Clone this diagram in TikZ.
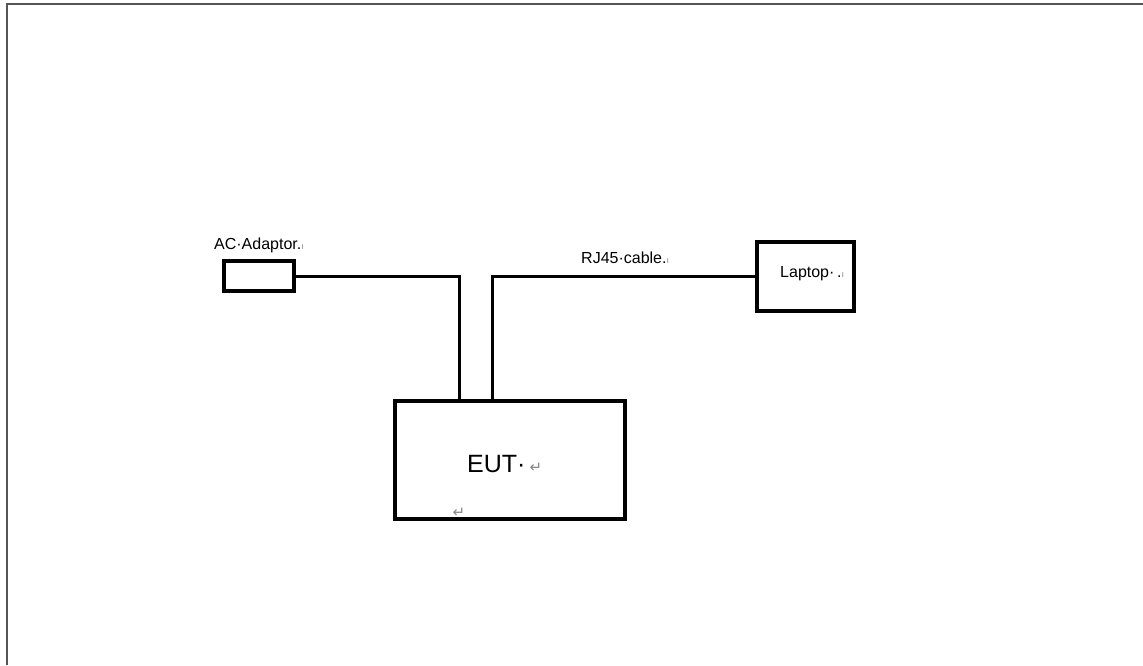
\documentclass[tikz,border=0pt]{standalone}
\usepackage{fontspec}
\setmainfont{Liberation Sans}
\newfontfamily\markfont{DejaVu Sans}
\usetikzlibrary{positioning, calc}

\definecolor{framegray}{RGB}{85,85,85}
\definecolor{markgray}{RGB}{135,135,135}
\newcommand{\retmark}[1][15]{{\markfont\color{markgray}\fontsize{#1}{#1}\selectfont ↵}}
\newcommand{\tailmark}{{\color{markgray}\fontsize{9}{9}\selectfont ı}}

\begin{document}
\begin{tikzpicture}[x=1pt, y=-1pt, font=\fontsize{16}{19}\selectfont,
	box/.style={draw, line width=4.5pt, inner sep=0pt},
	wire/.style={line width=3pt},
	txt/.style={inner sep=0pt, anchor=base west}]
	\def\W{1143}
	\def\H{665}

	\useasboundingbox (0,0) rectangle (\W,\H);
	\draw[framegray, line width=2.6pt]	(\W,4) -| (7,\H);

	% blocks
	\node[box, minimum width=70pt, minimum height=30pt]	(adaptor) at (259,276) {};
	\node[box, minimum width=97pt, minimum height=69pt]	(laptop) at (805.5,276.5) {};
	\node[box, minimum width=230pt, minimum height=118pt]	(eut) at (510,460) {};

	\coordinate (pwr) at ($(eut.north west)+(67,0)$);
	\coordinate (lan) at ($(eut.north west)+(100,0)$);

	% cables
	\draw[wire]	(adaptor.east) -| (pwr);
	\draw[wire]	(lan) |- (laptop.west);

	% texts
	\node[inner sep=0pt, above=6pt of adaptor]	(adaptortxt) {AC·Adaptor.\tailmark};
	\node[txt]	(rjtxt) at (581,263) {RJ45·cable.\tailmark};
	\node[txt]	(laptoptxt) at (780,277) {Laptop·\,.\tailmark};
	\node[txt, font=\fontsize{25}{30}\selectfont]	(euttxt) at (467,472) {EUT·\,\retmark};
	\node[inner sep=0pt]	(eutret) at (459,513) {\retmark};
\end{tikzpicture}
\end{document}
